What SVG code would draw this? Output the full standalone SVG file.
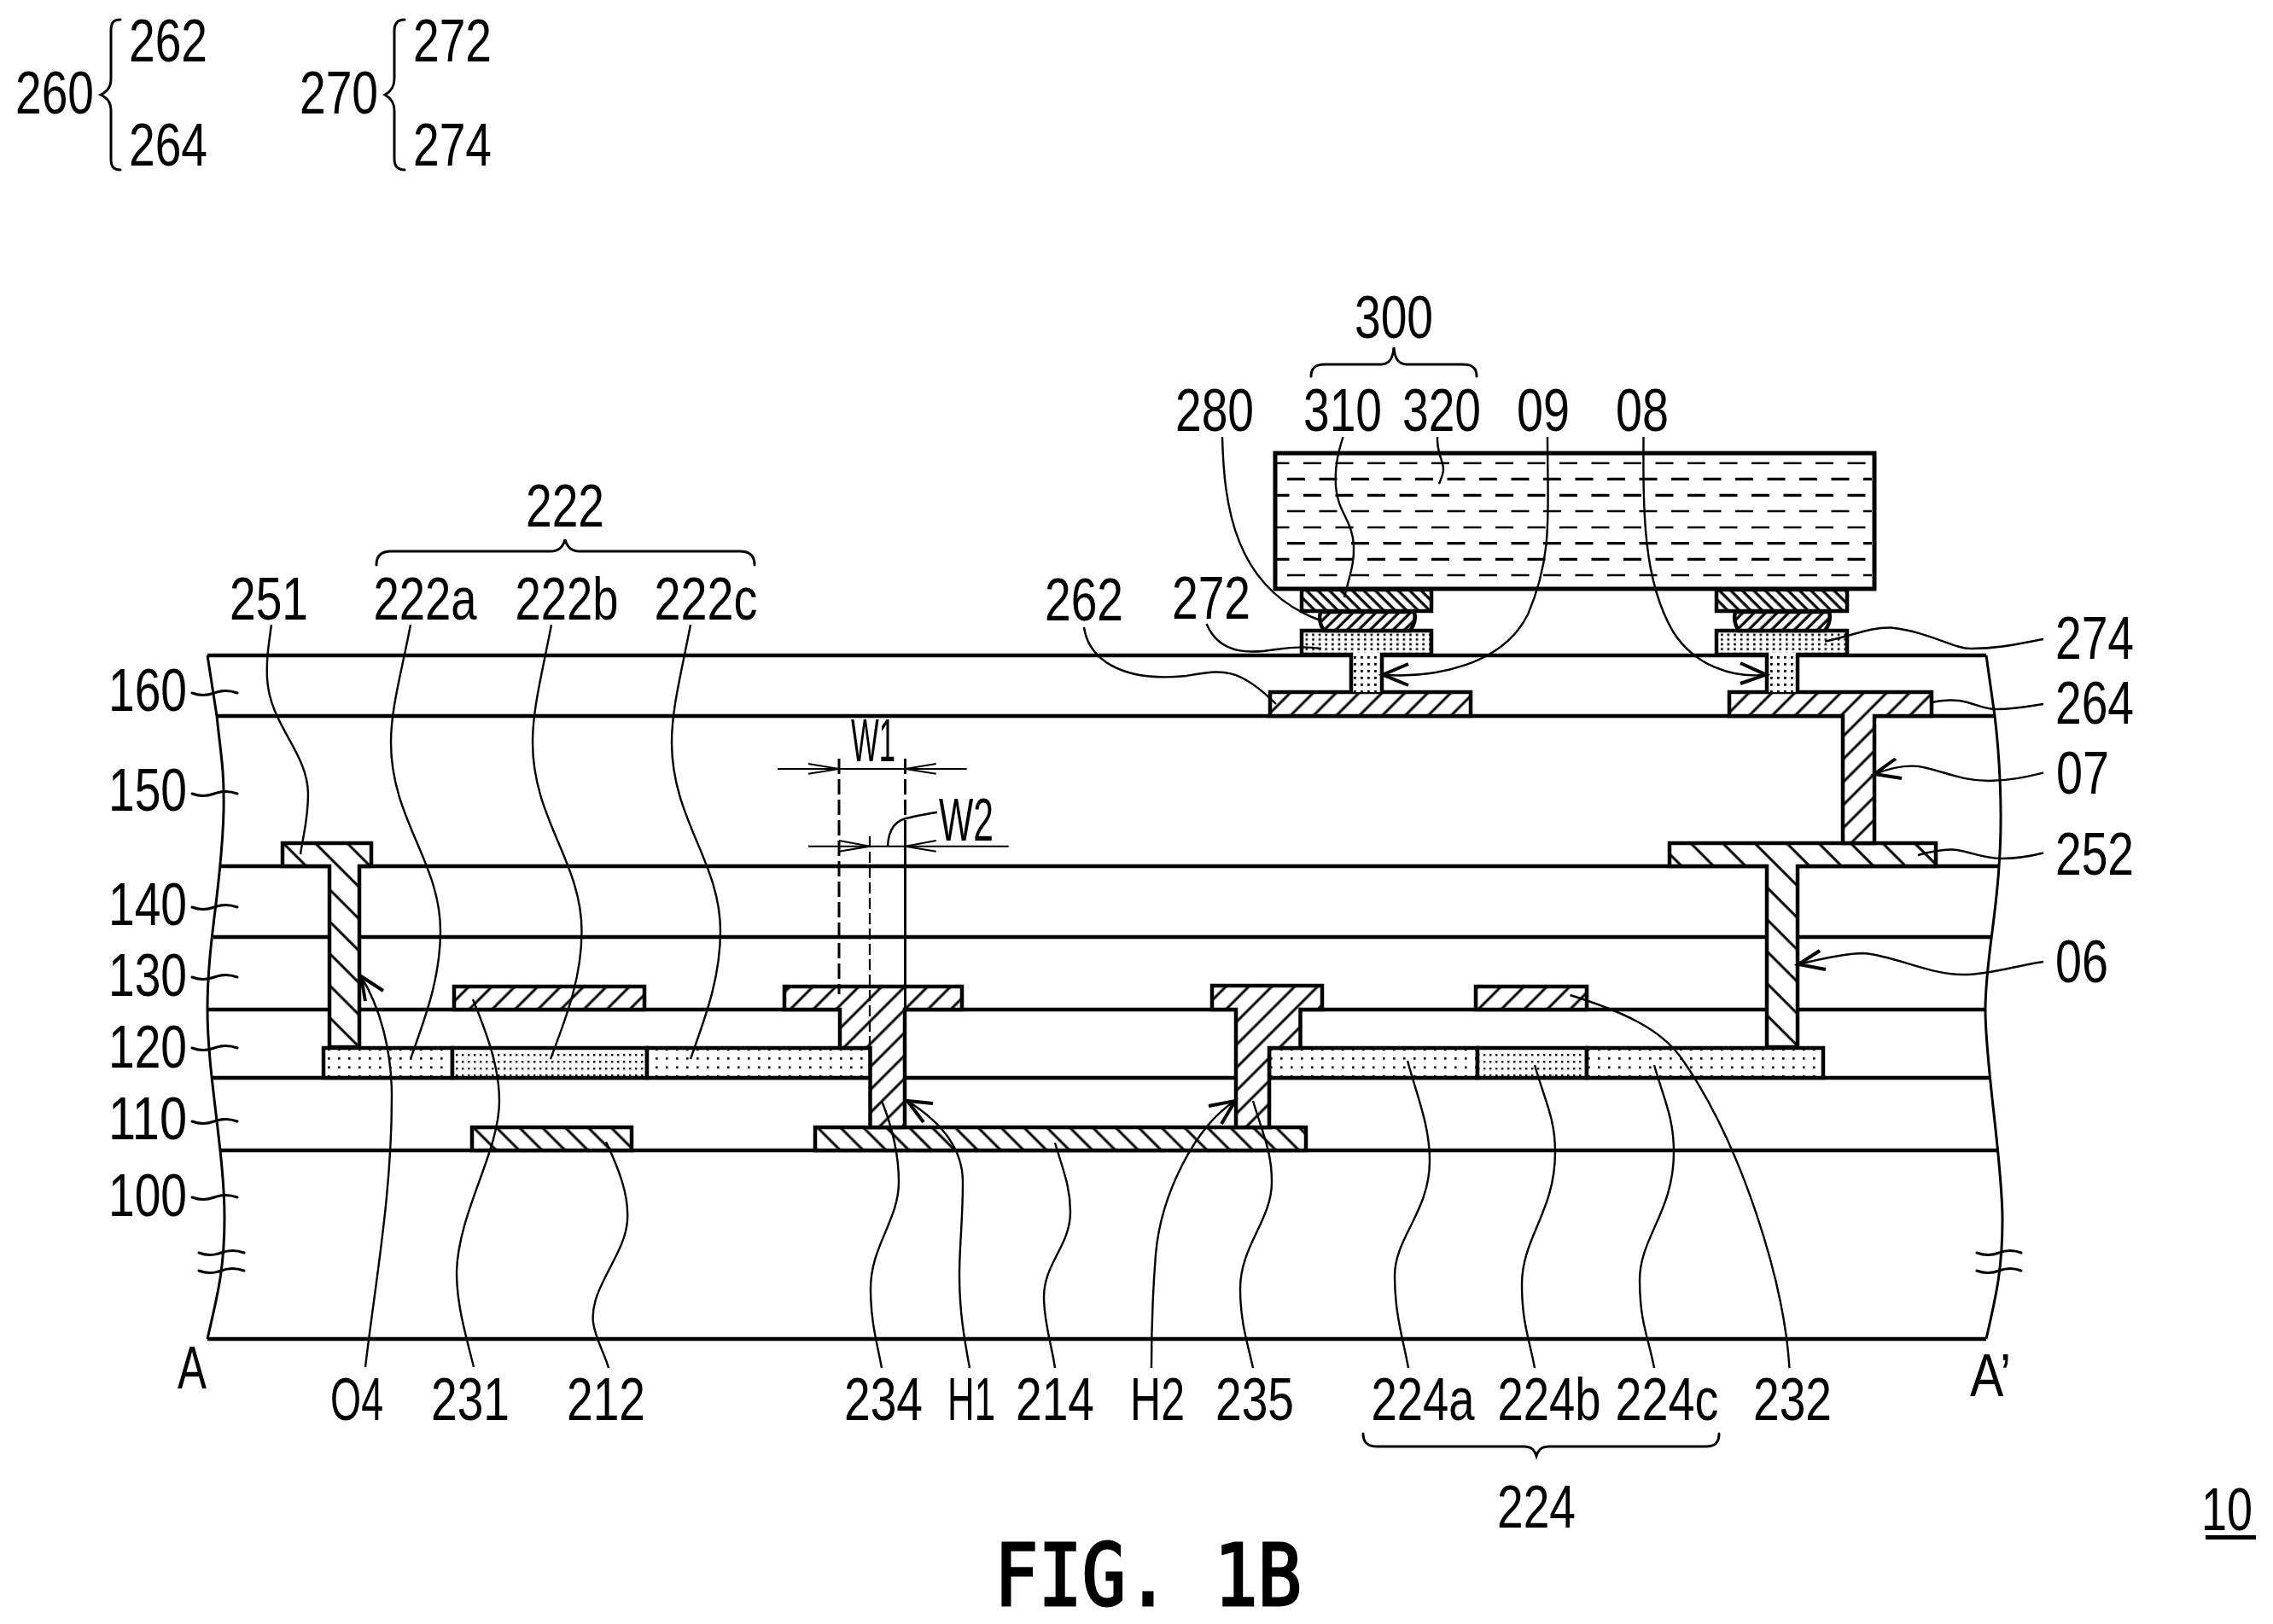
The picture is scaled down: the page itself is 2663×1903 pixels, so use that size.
<svg xmlns="http://www.w3.org/2000/svg" width="2663" height="1903" viewBox="0 0 2663 1903">
<defs>
<pattern id="hf" patternUnits="userSpaceOnUse" width="19" height="19" patternTransform="rotate(45)"><rect width="19" height="19" fill="#fff"/><line x1="9" y1="0" x2="9" y2="19" stroke="#000" stroke-width="3"/></pattern>
<pattern id="hb" patternUnits="userSpaceOnUse" width="19" height="19" patternTransform="rotate(-45)"><rect width="19" height="19" fill="#fff"/><line x1="9" y1="0" x2="9" y2="19" stroke="#000" stroke-width="3"/></pattern>
<pattern id="hbw" patternUnits="userSpaceOnUse" width="26.5" height="27" patternTransform="rotate(-45)"><rect width="26.5" height="27" fill="#fff"/><line x1="13" y1="0" x2="13" y2="27" stroke="#000" stroke-width="3"/></pattern>
<pattern id="hbd" patternUnits="userSpaceOnUse" width="9.5" height="10" patternTransform="rotate(-45)"><rect width="9.5" height="10" fill="#fff"/><line x1="4" y1="0" x2="4" y2="10" stroke="#000" stroke-width="3.2"/></pattern>
<pattern id="hfd" patternUnits="userSpaceOnUse" width="9.5" height="10" patternTransform="rotate(45)"><rect width="9.5" height="10" fill="#fff"/><line x1="4" y1="0" x2="4" y2="10" stroke="#000" stroke-width="3.2"/></pattern>
<pattern id="sl" patternUnits="userSpaceOnUse" x="380" y="1236" width="12" height="10.5"><rect width="12" height="10.5" fill="#fff"/><rect x="4" y="3" width="2.6" height="2.6" fill="#000"/></pattern>
<pattern id="sd" patternUnits="userSpaceOnUse" width="7" height="8"><rect width="7" height="8" fill="#fff"/><rect x="2" y="3" width="2.4" height="2.4" fill="#000"/></pattern>
<pattern id="sp" patternUnits="userSpaceOnUse" width="7.6" height="5.6" y="741"><rect width="7.6" height="5.6" fill="#fff"/><rect x="2" y="1.5" width="2.6" height="2.6" fill="#000"/></pattern>
<pattern id="ss" patternUnits="userSpaceOnUse" width="8" height="8" y="767"><rect width="8" height="8" fill="#fff"/><rect x="2" y="2" width="2.8" height="2.8" fill="#000"/></pattern>
</defs>
<style>
text{font-family:"Liberation Sans",Arial,sans-serif;font-size:70px;fill:#000;text-anchor:middle}
.fig{font-family:"DejaVu Sans Mono",monospace;font-size:100px;stroke:#000;stroke-width:3px;text-anchor:start}
.l{stroke:#000;stroke-width:4.5;fill:none}
.m{stroke:#000;stroke-width:4.5;stroke-linejoin:miter}
.o{stroke:#000;stroke-width:4.5;fill:none}
.th{stroke:#000;stroke-width:2.4;fill:none}
.ar{stroke:#000;stroke-width:4;fill:none}
.ed{stroke:#000;stroke-width:3;fill:none}
.da{stroke:#000;stroke-width:3;fill:none;stroke-dasharray:18 6}
.db{stroke:#000;stroke-width:2.2;fill:none;stroke-dasharray:13 5}
.dm{stroke:#000;stroke-width:2;fill:none}
.cd{stroke:#000;stroke-width:2.4;fill:none;stroke-dasharray:21 16.5}
.ce{stroke:#000;stroke-width:3.2;fill:none;stroke-dasharray:21 16.5}
.br{stroke:#000;stroke-width:3;fill:none;stroke-linecap:round}
.f{fill:url(#hf)}.b{fill:url(#hb)}.w{fill:url(#hbw)}.d{fill:url(#hbd)}.e{fill:url(#hfd)}.s{fill:url(#sl)}.sd{fill:url(#sd)}.sp{fill:url(#sp)}.ss{fill:url(#ss)}
</style>
<rect width="2663" height="1903" fill="#fff"/>
<g id="layers">
<path class="ed" d="M243 768L254 839C258 880 263 900 262 950C260 1040 243 1100 243 1183C243 1260 263 1350 263 1427C263 1490 254 1520 243 1569"/>
<path class="ed" d="M2327 768L2337 839C2342 880 2347 950 2342 1015C2338 1080 2326 1130 2326 1183C2326 1250 2346 1360 2346 1429C2346 1490 2338 1520 2327 1569"/>
<path class="l" d="M243 768H2327M254 839H2337M258 1015H2342M250 1098H2332M243 1183H2326M247 1263H2331M257 1348H2341M243 1569H2327"/>
</g>
<g id="gate-212"><rect class="m b" x="553" y="1321" width="187" height="27"/></g>
<g id="gate-214"><rect class="m b" x="955" y="1321" width="575" height="27"/></g>
<g id="channel-222">
<rect class="m s" x="379" y="1228" width="151" height="35"/>
<rect class="m sd" x="530" y="1228" width="228" height="35"/>
<rect class="m s" x="758" y="1228" width="262" height="35"/>
</g>
<g id="channel-224">
<rect class="m s" x="1487" y="1228" width="244" height="35"/>
<rect class="m sd" x="1731" y="1228" width="128" height="35"/>
<rect class="m s" x="1859" y="1228" width="277" height="35"/>
</g>
<g id="pad-231"><rect class="m f" x="532" y="1156" width="223" height="27"/></g>
<g id="pad-232"><rect class="m f" x="1729" y="1156" width="130" height="27"/></g>
<g id="via-234"><path class="m f" d="M919 1183V1156H1127V1183H1060V1321H1019.5V1228H984V1183Z"/></g>
<g id="via-235"><path class="m f" d="M1420 1183V1155H1549V1183H1523.5V1228H1487V1321H1448V1183Z"/></g>
<g id="via-251"><path class="m w" d="M331 1015V988H435V1015H421V1227H386V1015Z"/></g>
<g id="via-252"><path class="m w" d="M1956 1015V988H2268V1015H2106V1227H2070V1015Z"/></g>
<g id="pad-262"><rect class="m f" x="1488" y="811" width="235" height="28"/></g>
<g id="via-264"><path class="m f" d="M2026 839V811H2263V839H2196V988H2159V839Z"/></g>
<g id="bump-272"><rect class="sp" x="1525" y="739" width="152" height="30"/><rect class="ss" x="1583" y="765" width="36" height="46"/><path class="o" d="M1583 811V767H1525V739H1677V767H1619V811"/></g>
<g id="bump-274"><rect class="sp" x="2011" y="739" width="153" height="30"/><rect class="ss" x="2070" y="765" width="36" height="46"/><path class="o" d="M2070 811V767H2011V739H2164V767H2106V811"/></g>
<g id="solder-left"><path class="m e" d="M1547 717H1657Q1660 728 1652 739H1551Q1544 728 1547 717Z"/></g>
<g id="solder-right"><path class="m e" d="M2033 717H2143Q2146 728 2138 739H2037Q2030 728 2033 717Z"/></g>
<g id="pad-310-left"><rect class="m d" x="1525" y="691" width="152" height="25"/></g>
<g id="pad-310-right"><rect class="m d" x="2011" y="691" width="153" height="25"/></g>
<g id="chip-320">
<rect x="1494" y="531" width="702" height="159" fill="#fff" stroke="#000" stroke-width="5"/>
<path class="cd" stroke-dashoffset="6.5" d="M1496 542.7H2193M1496 618H2193"/>
<path class="ce" stroke-dashoffset="6.5" d="M1496 580.3H2193M1496 655.3H2193"/>
<path class="ce" d="M1508 561.3H2193M1508 636.7H2193"/>
<path class="cd" d="M1508 599H2193M1508 674H2193"/>
</g>
<g id="dimensions">
<path class="da" d="M983 889V1165"/>
<path class="da" stroke-width="2.5" d="M1060.5 889V970"/>
<path class="db" d="M1019 980V1229"/>
<path class="ed" stroke-width="2.5" d="M1060.5 970V1183"/>
<path class="dm" d="M911 901H1132.7M947 991.7H1181.7"/>
<path class="dm" d="M947 895L983 901L947 906.7M1096.7 895L1060.5 901L1096.7 906.7M983 985L1019 991.7L983 997.7M1096.7 985L1060.5 991.7L1096.7 997.7"/>
<path class="th" d="M1040 991.7C1041 970 1050 960 1066 958C1078 955 1088 953.5 1098 951.7"/>
</g>
<g id="connectors">
<path class="th" d="M318 732C314 760 312 775 313 795C316 850 360 880 361 930C361 960 355 980 352 1001"/>
<path class="th" d="M481 732C470 790 458 830 458 870C458 960 516 1010 516 1091C516 1150 495 1200 481 1241"/>
<path class="th" d="M646 732C635 790 624 830 624 870C624 960 681.5 1010 681.5 1091C681.5 1150 660 1200 645 1241"/>
<path class="th" d="M809 732C798 790 787 830 787 870C787 960 844 1010 844 1091C844 1150 823 1200 809 1241"/>
<path class="th" d="M423 1144C445 1180 459 1230 459 1285C459 1400 440 1500 428 1602"/>
<path class="th" d="M554 1171C570 1210 585 1250 585 1290C585 1350 537 1420 535 1490C535 1530 546 1565 555 1602"/>
<path class="th" d="M710 1338C725 1370 737 1400 735 1430C733 1470 690 1510 695 1550C698 1570 708 1585 713 1603"/>
<path class="th" d="M1033 1290C1045 1320 1053 1350 1053 1385C1053 1430 1020 1460 1020 1510C1020 1550 1028 1575 1033 1603"/>
<path class="th" d="M1063 1290C1095 1310 1128 1340 1128 1385C1128 1430 1124 1460 1124 1495C1124 1540 1131 1575 1136 1603"/>
<path class="th" d="M1236 1339C1245 1370 1254 1390 1254 1420C1254 1460 1223 1480 1223 1520C1223 1550 1232 1575 1236 1603"/>
<path class="th" d="M1447 1290C1400 1320 1360 1400 1354 1470C1350 1520 1349 1560 1349 1603"/>
<path class="th" d="M1468 1290C1480 1330 1490 1350 1490 1385C1490 1430 1453 1460 1453 1510C1453 1550 1462 1575 1468 1603"/>
<path class="th" d="M1649 1243C1662 1290 1675 1320 1675 1360C1675 1420 1634 1450 1634 1495C1634 1540 1644 1570 1650 1603"/>
<path class="th" d="M1798 1248C1810 1290 1822 1310 1822 1350C1822 1420 1783 1450 1783 1505C1783 1550 1792 1570 1798 1603"/>
<path class="th" d="M1938 1248C1950 1290 1961 1310 1961 1350C1961 1420 1921 1450 1921 1500C1921 1550 1932 1570 1938 1603"/>
<path class="th" d="M1839.5 1166C1900 1185 1945 1205 1970 1240C2040 1340 2090 1500 2096.5 1603"/>
<path class="th" d="M1432 512C1434 590 1445 690 1547 727"/>
<path class="th" d="M1573.5 512C1566 535 1564 550 1565 570C1567 600 1585 610 1586 640C1587 660 1581 675 1575 700"/>
<path class="th" d="M1684 512C1683 530 1691 540 1691 550C1691 556 1688 561 1686 567"/>
<path class="th" d="M1813 512C1813 600 1820 650 1790 720C1760 780 1680 795 1620 790.7"/>
<path class="th" d="M1925.5 512C1925 600 1925 680 1960 740C1985 780 2030 795 2069 790.6"/>
<path class="th" d="M1413.5 731C1430 770 1470 765 1495 761C1520 757 1535 758 1548 760"/>
<path class="th" d="M1270 735C1275 770 1310 800 1390 792C1430 785 1450 780 1495 825"/>
<path class="th" d="M2138 751.6C2170 745 2190 735 2215 735.5C2260 740 2290 761 2310 760C2345 760 2370 753 2394 749"/>
<path class="th" d="M2263 823C2275 820 2285 820 2295 821C2315 824 2325 832 2340 831C2360 831 2375 828 2394 825"/>
<path class="th" d="M2196 907C2215 900 2235 895 2253 899C2280 905 2300 915 2330 915C2355 915 2375 910 2394 905.5"/>
<path class="th" d="M2247 1002C2265 997 2280 994 2293 996C2310 999 2325 1006 2345 1006C2365 1006 2380 1003 2394 999.5"/>
<path class="th" d="M2107 1130C2140 1122 2165 1117 2184 1117C2220 1120 2260 1142 2299 1142C2330 1142 2360 1132 2394 1127"/>
<path class="ar" d="M449 1161L423 1144L428 1173M1093 1293L1063 1290L1082 1315M1416 1296L1447 1290L1431 1317M1650 778L1620 790.7L1650 803M2039 777L2069 790.6L2039 801M2221 889L2196 907L2228 912M2132 1114L2107 1130L2139 1136"/>
<path class="br" d="M225 812q13 5 26 0t27 0M225 930q13 5 26 0t27 0M225 1063q13 5 26 0t27 0M225 1145q13 5 26 0t27 0M225 1228q13 5 26 0t27 0M225 1314q13 5 26 0t27 0M225 1403q13 5 26 0t27 0"/>
<path class="br" d="M233 1468q13 5 26 0t27 0M233 1489q13 5 26 0t27 0M2316 1468q13 5 26 0t26 0M2316 1489q13 5 26 0t26 0"/>
</g>
<g id="braces">
<path class="br" d="M141 23C132 23 130 28 130 36V92C130 102 126 107 118 111C126 115 130 120 130 130V186C130 194 132 199 141 199" stroke-width="3.5"/>
<path class="br" d="M474 23C465 23 462 28 462 36V92C462 102 458 107 451 111C458 115 462 120 462 130V186C462 194 465 199 474 199" stroke-width="3.5"/>
<path class="br" d="M1536 441C1536 432 1540 427 1552 427H1618C1628 427 1632 420 1633 407C1634 420 1638 427 1648 427H1714C1726 427 1730 432 1730 441"/>
<path class="br" d="M441 662C441 652 446 646 458 646H645C655 646 660 640 662 632C664 640 669 646 679 646H867C879 646 884 652 884 662"/>
<path class="br" d="M1597 1680C1597 1690 1602 1695 1614 1695H1785C1795 1695 1798 1700 1800 1706C1802 1700 1805 1695 1815 1695H1998C2010 1695 2014 1690 2014 1680"/>
</g>
<g id="labels">
<text x="197" y="72" textLength="92" lengthAdjust="spacingAndGlyphs">262</text>
<text x="197" y="194" textLength="92" lengthAdjust="spacingAndGlyphs">264</text>
<text x="64" y="133" textLength="92" lengthAdjust="spacingAndGlyphs">260</text>
<text x="530" y="72" textLength="92" lengthAdjust="spacingAndGlyphs">272</text>
<text x="530" y="194" textLength="92" lengthAdjust="spacingAndGlyphs">274</text>
<text x="397" y="133" textLength="92" lengthAdjust="spacingAndGlyphs">270</text>
<text x="1633" y="396" textLength="92" lengthAdjust="spacingAndGlyphs">300</text>
<text x="1423" y="505" textLength="92" lengthAdjust="spacingAndGlyphs">280</text>
<text x="1573" y="505" textLength="92" lengthAdjust="spacingAndGlyphs">310</text>
<text x="1689" y="505" textLength="92" lengthAdjust="spacingAndGlyphs">320</text>
<text x="1808" y="505" textLength="62" lengthAdjust="spacingAndGlyphs">09</text>
<text x="1924" y="505" textLength="62" lengthAdjust="spacingAndGlyphs">08</text>
<text x="1419" y="725" textLength="92" lengthAdjust="spacingAndGlyphs">272</text>
<text x="1270" y="727" textLength="92" lengthAdjust="spacingAndGlyphs">262</text>
<text x="2454" y="772" textLength="92" lengthAdjust="spacingAndGlyphs">274</text>
<text x="2454" y="848" textLength="92" lengthAdjust="spacingAndGlyphs">264</text>
<text x="2440" y="930" textLength="62" lengthAdjust="spacingAndGlyphs">07</text>
<text x="2454" y="1025" textLength="92" lengthAdjust="spacingAndGlyphs">252</text>
<text x="2439" y="1151" textLength="62" lengthAdjust="spacingAndGlyphs">06</text>
<text x="662" y="617" textLength="92" lengthAdjust="spacingAndGlyphs">222</text>
<text x="315" y="726" textLength="92" lengthAdjust="spacingAndGlyphs">251</text>
<text x="498" y="726" textLength="121" lengthAdjust="spacingAndGlyphs">222a</text>
<text x="664" y="726" textLength="121" lengthAdjust="spacingAndGlyphs">222b</text>
<text x="827" y="726" textLength="121" lengthAdjust="spacingAndGlyphs">222c</text>
<text x="1023" y="892" textLength="52" lengthAdjust="spacingAndGlyphs">W1</text>
<text x="1132" y="985" textLength="64" lengthAdjust="spacingAndGlyphs">W2</text>
<text x="173" y="833" textLength="92" lengthAdjust="spacingAndGlyphs">160</text>
<text x="173" y="950" textLength="92" lengthAdjust="spacingAndGlyphs">150</text>
<text x="173" y="1084" textLength="92" lengthAdjust="spacingAndGlyphs">140</text>
<text x="173" y="1167" textLength="92" lengthAdjust="spacingAndGlyphs">130</text>
<text x="173" y="1251" textLength="92" lengthAdjust="spacingAndGlyphs">120</text>
<text x="173" y="1335" textLength="92" lengthAdjust="spacingAndGlyphs">110</text>
<text x="173" y="1425" textLength="92" lengthAdjust="spacingAndGlyphs">100</text>
<text x="225" y="1627" textLength="34" lengthAdjust="spacingAndGlyphs">A</text>
<text x="2332" y="1636" textLength="48" lengthAdjust="spacingAndGlyphs">A’</text>
<text x="418" y="1664" textLength="62" lengthAdjust="spacingAndGlyphs">O4</text>
<text x="551" y="1664" textLength="92" lengthAdjust="spacingAndGlyphs">231</text>
<text x="710" y="1664" textLength="92" lengthAdjust="spacingAndGlyphs">212</text>
<text x="1035" y="1664" textLength="92" lengthAdjust="spacingAndGlyphs">234</text>
<text x="1138" y="1664" textLength="56" lengthAdjust="spacingAndGlyphs">H1</text>
<text x="1236" y="1664" textLength="92" lengthAdjust="spacingAndGlyphs">214</text>
<text x="1356" y="1664" textLength="64" lengthAdjust="spacingAndGlyphs">H2</text>
<text x="1470" y="1664" textLength="92" lengthAdjust="spacingAndGlyphs">235</text>
<text x="1667" y="1664" textLength="121" lengthAdjust="spacingAndGlyphs">224a</text>
<text x="1815" y="1664" textLength="121" lengthAdjust="spacingAndGlyphs">224b</text>
<text x="1953" y="1664" textLength="121" lengthAdjust="spacingAndGlyphs">224c</text>
<text x="2100" y="1664" textLength="92" lengthAdjust="spacingAndGlyphs">232</text>
<text x="1800" y="1790" textLength="92" lengthAdjust="spacingAndGlyphs">224</text>
<text x="2609" y="1793" textLength="60" lengthAdjust="spacingAndGlyphs">10</text>
<rect x="2584" y="1799" width="59" height="5" fill="#000"/>
<text class="fig" x="1165" y="1881" textLength="360" lengthAdjust="spacingAndGlyphs">FIG. 1B</text>
</g>
</svg>
